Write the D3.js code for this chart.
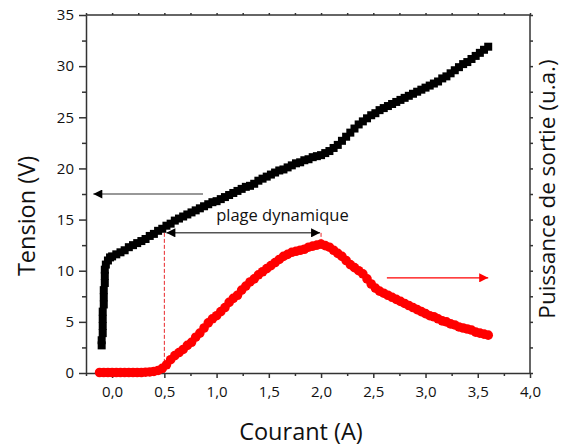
<!DOCTYPE html>
<html>
<head>
<meta charset="utf-8">
<script src="https://cdn.jsdelivr.net/npm/d3@7"></script>
<style>
  body { margin: 0; background: #fff; }
  text { font-family: "Open Sans", "Noto Sans", sans-serif; fill: #111; }
  .axis path, .axis line { stroke: #333; stroke-width: 1.5; }
  .axis text { font-size: 15px; }
  .axis-label { font-size: 23.5px; }
</style>
</head>
<body>
<svg id="chart" width="563" height="446"></svg>
<script>
// Tension (V) vs courant (A) - black squares
const tensionCourant = [-0.10, -0.10, -0.09, -0.09, -0.09, -0.09, -0.08, -0.08, -0.08, -0.07, -0.07, -0.07, -0.06, -0.04, -0.02,
  0.00, 0.04, 0.08, 0.12, 0.16, 0.20, 0.24, 0.28, 0.32, 0.36, 0.40, 0.44, 0.48, 0.52, 0.56, 0.60, 0.64, 0.68, 0.72, 0.76,
  0.80, 0.84, 0.88, 0.92, 0.96, 1.00, 1.04, 1.08, 1.12, 1.16, 1.20, 1.24, 1.28, 1.32, 1.36, 1.40, 1.44, 1.48, 1.52, 1.56,
  1.60, 1.64, 1.68, 1.72, 1.76, 1.80, 1.84, 1.88, 1.92, 1.96, 2.00, 2.04, 2.08, 2.12, 2.16, 2.20, 2.24, 2.28, 2.32, 2.36,
  2.40, 2.44, 2.48, 2.52, 2.56, 2.60, 2.64, 2.68, 2.72, 2.76, 2.80, 2.84, 2.88, 2.92, 2.96, 3.00, 3.04, 3.08, 3.12, 3.16,
  3.20, 3.24, 3.28, 3.32, 3.36, 3.40, 3.44, 3.48, 3.52, 3.56, 3.60];
const tensionValues = [2.7, 3.2, 3.9, 4.6, 5.3, 6.0, 6.7, 7.4, 8.1, 8.8, 9.5, 10.1, 10.6, 11.0, 11.3,
  11.4, 11.6, 11.8, 12.0, 12.3, 12.5, 12.7, 12.9, 13.1, 13.4, 13.6, 13.9, 14.1, 14.4, 14.6, 14.9, 15.1, 15.3, 15.5, 15.7,
  15.9, 16.1, 16.3, 16.5, 16.7, 16.8, 17.0, 17.2, 17.4, 17.6, 17.8, 18.0, 18.2, 18.3, 18.5, 18.8, 19.0, 19.2, 19.4, 19.6,
  19.8, 19.9, 20.1, 20.3, 20.5, 20.6, 20.8, 20.9, 21.1, 21.2, 21.3, 21.5, 21.7, 22.0, 22.3, 22.7, 23.1, 23.5, 23.9, 24.3,
  24.6, 24.9, 25.2, 25.4, 25.7, 25.9, 26.1, 26.3, 26.5, 26.7, 26.9, 27.1, 27.3, 27.5, 27.7, 27.9, 28.1, 28.3, 28.5, 28.8,
  29.0, 29.3, 29.6, 29.9, 30.2, 30.4, 30.7, 31.0, 31.3, 31.6, 31.9];

// Puissance de sortie (u.a.) vs courant (A) - red circles
const puissanceCourant = [-0.12, -0.08, -0.04, 0.00, 0.04, 0.08, 0.12, 0.16, 0.20, 0.24, 0.28, 0.32, 0.36, 0.40, 0.44, 0.48,
  0.52, 0.56, 0.60, 0.64, 0.68, 0.72, 0.76, 0.80, 0.84, 0.88, 0.92, 0.96, 1.00, 1.04, 1.08, 1.12, 1.16, 1.20, 1.24, 1.28,
  1.32, 1.36, 1.40, 1.44, 1.48, 1.52, 1.56, 1.60, 1.64, 1.68, 1.72, 1.76, 1.80, 1.84, 1.88, 1.92, 1.96, 2.00, 2.04, 2.08,
  2.12, 2.16, 2.20, 2.24, 2.28, 2.32, 2.36, 2.40, 2.44, 2.48, 2.52, 2.56, 2.60, 2.64, 2.68, 2.72, 2.76, 2.80, 2.84, 2.88,
  2.92, 2.96, 3.00, 3.04, 3.08, 3.12, 3.16, 3.20, 3.24, 3.28, 3.32, 3.36, 3.40, 3.44, 3.48, 3.52, 3.56, 3.60];
const puissanceValues = [0.05, 0.05, 0.05, 0.05, 0.05, 0.05, 0.05, 0.05, 0.05, 0.05, 0.05, 0.08, 0.1, 0.15, 0.25, 0.45,
  0.8, 1.3, 1.7, 2.0, 2.3, 2.7, 3.0, 3.5, 3.9, 4.4, 4.9, 5.3, 5.6, 6.0, 6.4, 6.9, 7.3, 7.6, 8.1, 8.5,
  8.9, 9.2, 9.6, 9.9, 10.2, 10.5, 10.8, 11.1, 11.4, 11.6, 11.8, 11.9, 12.0, 12.1, 12.3, 12.4, 12.5, 12.6, 12.45, 12.3,
  12.0, 11.7, 11.4, 11.0, 10.6, 10.3, 10.0, 9.7, 9.2, 8.7, 8.3, 8.0, 7.8, 7.6, 7.4, 7.2, 7.0, 6.8, 6.6, 6.4,
  6.2, 6.0, 5.8, 5.6, 5.5, 5.3, 5.1, 5.0, 4.8, 4.7, 4.5, 4.4, 4.3, 4.2, 4.0, 3.9, 3.8, 3.7];

const xTicks = [0, 0.5, 1, 1.5, 2, 2.5, 3, 3.5, 4];
const yTicks = [0, 5, 10, 15, 20, 25, 30, 35];
const plageDynamique = [0.5, 2.0];

// Layout
const margin = { top: 15, right: 33, bottom: 73, left: 86 };
const width = 563 - margin.left - margin.right;
const height = 446 - margin.top - margin.bottom;

const svg = d3.select("#chart");
const g = svg.append("g").attr("transform", `translate(${margin.left},${margin.top})`);

const x = d3.scaleLinear().domain([-0.25, 4.0]).range([0, width]);
const y = d3.scaleLinear().domain([0, 35]).range([height, 0]);
const y2 = d3.scaleLinear().domain([0, 35]).range([height, 0]);

const fmt = d => d3.format(".1f")(d).replace(".", ",");
const xMinor = d3.range(-0.25, 4.01, 0.25).filter(d => !xTicks.some(t => Math.abs(t - d) < 1e-6));
const yMinor = d3.range(2.5, 35, 5);

// minor ticks first
g.append("g").attr("class", "axis").attr("transform", `translate(0,${height})`)
  .call(d3.axisBottom(x).tickValues(xMinor).tickSize(3).tickFormat(""))
  .call(a => a.select(".domain").remove());
g.append("g").attr("class", "axis")
  .call(d3.axisLeft(y).tickValues(yMinor).tickSize(4).tickFormat(""))
  .call(a => a.select(".domain").remove());
g.append("g").attr("class", "axis")
  .call(d3.axisTop(x).tickValues(xTicks.concat(xMinor)).tickSize(2).tickFormat(""))
  .call(a => a.select(".domain").remove());
g.append("g").attr("class", "axis").attr("transform", `translate(${width},0)`)
  .call(d3.axisRight(y2).tickValues(yTicks.concat(yMinor)).tickSize(3).tickFormat(""))
  .call(a => a.select(".domain").remove());

// main axes
g.append("g").attr("class", "axis").attr("transform", `translate(0,${height})`)
  .call(d3.axisBottom(x).tickValues(xTicks).tickSize(5).tickSizeOuter(0).tickPadding(8).tickFormat(fmt));
g.append("g").attr("class", "axis")
  .call(d3.axisLeft(y).tickValues(yTicks).tickSize(7).tickSizeOuter(0).tickPadding(5));
g.append("line").attr("x1", 0).attr("x2", width).attr("y1", 0).attr("y2", 0)
  .attr("stroke", "#333").attr("stroke-width", 1.5);
g.append("line").attr("x1", width).attr("x2", width).attr("y1", 0).attr("y2", height)
  .attr("stroke", "#333").attr("stroke-width", 1.5);

// Arrow markers
const defs = svg.append("defs");
function marker(id, color) {
  defs.append("marker").attr("id", id).attr("viewBox", "0 0 10 10")
    .attr("refX", 10).attr("refY", 5).attr("markerWidth", 11).attr("markerHeight", 9)
    .attr("markerUnits", "userSpaceOnUse").attr("orient", "auto-start-reverse")
    .append("path").attr("d", "M0,0 L10,5 L0,10 Z").attr("fill", color);
}
marker("arrowBlack", "#000");
marker("arrowRed", "#ff0000");

// Dashed guide lines for plage dynamique
const arrowY = y(13.7);
g.append("line")
  .attr("x1", x(plageDynamique[0])).attr("x2", x(plageDynamique[0]))
  .attr("y1", arrowY).attr("y2", height)
  .attr("stroke", "#e8282b").attr("stroke-width", 1).attr("stroke-dasharray", "4,2");
g.append("line")
  .attr("x1", x(plageDynamique[1])).attr("x2", x(plageDynamique[1]))
  .attr("y1", arrowY).attr("y2", y(12.6))
  .attr("stroke", "#e8282b").attr("stroke-width", 1).attr("stroke-dasharray", "4,2");

// Data marks
g.append("g").selectAll("rect")
  .data(tensionCourant.map((c, i) => [c, tensionValues[i]]))
  .join("rect")
  .attr("x", d => x(d[0]) - 4).attr("y", d => y(d[1]) - 4)
  .attr("width", 8).attr("height", 8).attr("fill", "#000");

g.append("g").selectAll("circle")
  .data(puissanceCourant.map((c, i) => [c, puissanceValues[i]]))
  .join("circle")
  .attr("cx", d => x(d[0])).attr("cy", d => y2(d[1]))
  .attr("r", 4.8).attr("fill", "#ff0000");

// Double arrow "plage dynamique"
g.append("line")
  .attr("x1", x(plageDynamique[0]) + 2).attr("x2", x(plageDynamique[1]) - 1)
  .attr("y1", arrowY).attr("y2", arrowY)
  .attr("stroke", "#555").attr("stroke-width", 1.5)
  .attr("marker-start", "url(#arrowBlack)").attr("marker-end", "url(#arrowBlack)");
g.append("text")
  .attr("x", x(1.63)).attr("y", y(14.85))
  .attr("text-anchor", "middle").style("font-size", "16.5px")
  .text("plage dynamique");

// Axis pointer arrows
g.append("line")
  .attr("x1", x(0.87)).attr("x2", x(-0.18))
  .attr("y1", y(17.5)).attr("y2", y(17.5))
  .attr("stroke", "#333").attr("stroke-width", 1.2)
  .attr("marker-end", "url(#arrowBlack)");
g.append("line")
  .attr("x1", x(2.63)).attr("x2", x(3.6))
  .attr("y1", y2(9.3)).attr("y2", y2(9.3))
  .attr("stroke", "#ff0000").attr("stroke-width", 1.2)
  .attr("marker-end", "url(#arrowRed)");

// Axis labels
svg.append("text").attr("class", "axis-label")
  .attr("text-anchor", "middle")
  .attr("x", 301).attr("y", 440)
  .text("Courant (A)");
svg.append("text").attr("class", "axis-label")
  .attr("text-anchor", "middle")
  .attr("transform", `translate(35,216) rotate(-90)`)
  .text("Tension (V)");
svg.append("text").attr("class", "axis-label")
  .attr("text-anchor", "middle")
  .style("font-size", "22.5px")
  .attr("transform", `translate(555,189) rotate(-90)`)
  .text("Puissance de sortie (u.a.)");
</script>
</body>
</html>
